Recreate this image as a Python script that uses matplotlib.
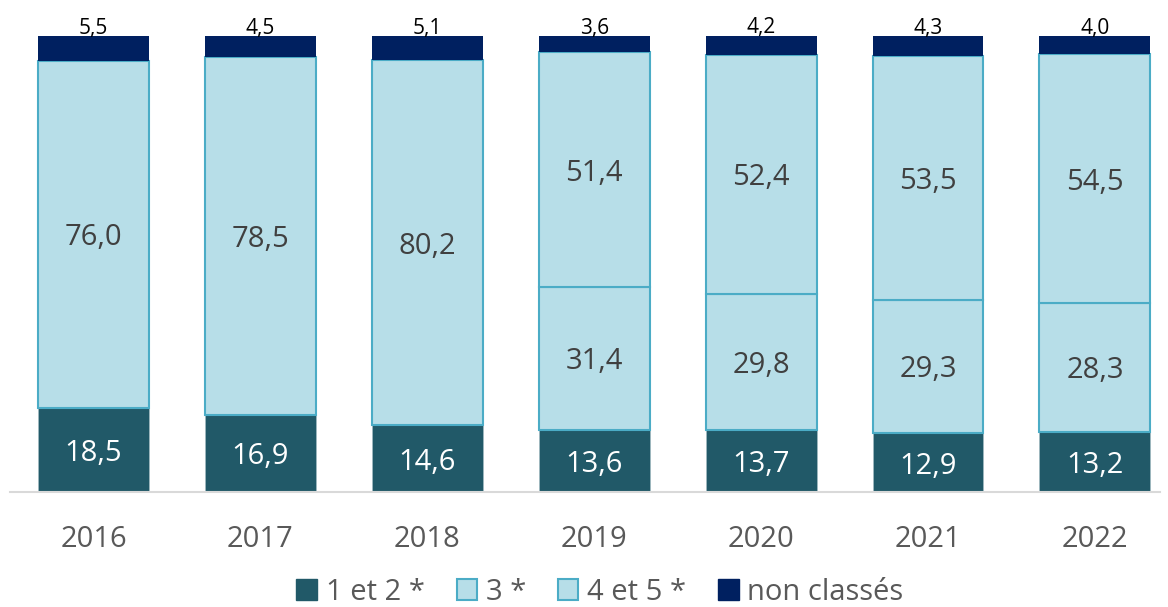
import matplotlib.pyplot as plt
from matplotlib.patches import Patch
import numpy as np

plt.rcParams['font.family'] = ['Open Sans', 'DejaVu Sans']

years = ['2016', '2017', '2018', '2019', '2020', '2021', '2022']
etoiles_1_2 = [18.5, 16.9, 14.6, 13.6, 13.7, 12.9, 13.2]
etoiles_3 = [76.0, 78.5, 80.2, 31.4, 29.8, 29.3, 28.3]
etoiles_4_5 = [0, 0, 0, 51.4, 52.4, 53.5, 54.5]
non_classes = [5.5, 4.5, 5.1, 3.6, 4.2, 4.3, 4.0]
legend_labels = ['1 et 2 *', '3 *', '4 et 5 *', 'non classés']

c_dark = '#215968'
c_light = '#b7dee8'
c_edge = '#4bacc6'
c_navy = '#002060'

def fmt(v):
    return f'{v:.1f}'.replace('.', ',')

fig = plt.figure(figsize=(11.68, 6.07), dpi=100)
ax = fig.add_axes([10 / 1168, 115 / 607, 1150 / 1168, 492 / 607])

x = np.arange(len(years))
w = 0.665
a = np.array(etoiles_1_2)
b = np.array(etoiles_3)
c = np.array(etoiles_4_5)
d = np.array(non_classes)

ax.bar(x, a, w, color=c_dark, edgecolor='#9fb9c0', linewidth=0.6)
ax.bar(x, b, w, bottom=a, color=c_light, edgecolor=c_edge, linewidth=1.5)
mask = c > 0
ax.bar(x[mask], c[mask], w, bottom=(a + b)[mask], color=c_light, edgecolor=c_edge, linewidth=1.5)
ax.bar(x, d, w, bottom=a + b + c, color=c_navy, linewidth=0)

fs = 21
for i in range(len(years)):
    ax.text(x[i], a[i] / 2, fmt(a[i]), ha='center', va='center_baseline', color='white', fontsize=fs)
    ax.text(x[i], a[i] + b[i] / 2, fmt(b[i]), ha='center', va='center_baseline', color='#404040', fontsize=fs)
    if c[i] > 0:
        ax.text(x[i], a[i] + b[i] + c[i] / 2, fmt(c[i]), ha='center', va='center_baseline', color='#404040', fontsize=fs)
    top = a[i] + b[i] + c[i] + d[i]
    ax.text(x[i], top + 0.5, fmt(d[i]), ha='center', va='baseline', color='black', fontsize=15, clip_on=False)

ax.set_xlim(-0.5, 6.39)
ax.set_ylim(0, 107.9)
ax.set_yticks([])
ax.set_xticks(x)
ax.set_xticklabels(years, fontsize=fs, color='#595959')
ax.tick_params(axis='x', length=0, pad=24)
for s in ['top', 'right', 'left']:
    ax.spines[s].set_visible(False)
ax.spines['bottom'].set_color('#d9d9d9')
ax.spines['bottom'].set_linewidth(1.5)

handles = [
    Patch(facecolor=c_dark, edgecolor=c_dark),
    Patch(facecolor=c_light, edgecolor=c_edge, linewidth=1.5),
    Patch(facecolor=c_light, edgecolor=c_edge, linewidth=1.5),
    Patch(facecolor=c_navy, edgecolor=c_navy),
]
leg = fig.legend(handles, legend_labels, loc='center', bbox_to_anchor=(600 / 1168, 1 - 592 / 607),
                 ncol=4, frameon=False, fontsize=fs, handlelength=0.7, handleheight=0.7,
                 handletextpad=0.3, columnspacing=1.1)
for t in leg.get_texts():
    t.set_color('#595959')

fig.savefig('out.png', dpi=100)
